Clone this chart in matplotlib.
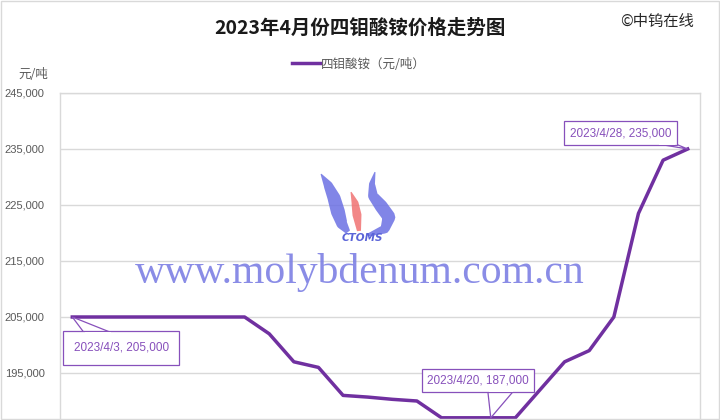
import matplotlib.pyplot as plt
import numpy as np

plt.rcParams['font.family'] = ['Liberation Sans', 'Noto Sans CJK SC', 'DejaVu Sans']

# data: daily price, 2023/4/3 .. 2023/4/28
dates = ['2023/4/%d' % d for d in range(3, 29)]
prices = [205000, 205000, 205000, 205000, 205000, 205000, 205000, 205000,
          202000, 197000, 196000, 191000, 190700, 190300, 190000,
          187000, 187000, 187000, 187000, 192000, 197000, 199000,
          205000, 223500, 233000, 235000]
yticks = [185000, 195000, 205000, 215000, 225000, 235000, 245000]
callouts = ['2023/4/3', '2023/4/20', '2023/4/28']

purple = '#7030A0'
light_purple = '#8750bb'
grey = '#595959'
cjk = ['Noto Sans CJK SC', 'DejaVu Sans']

fig = plt.figure(figsize=(7.2, 4.2), dpi=100)
# plot area runs past the bottom edge (picture is cropped there)
ax = fig.add_axes([60 / 720, -9 / 420, 640 / 720, 336 / 420])
ax.set_zorder(1)
ax.patch.set_alpha(0)

x = np.arange(len(dates))
ax.plot(x, prices, color=purple, lw=2.5, solid_joinstyle='round', zorder=3,
        label='四钼酸铵（元/吨）')
ax.set_xlim(-0.5, len(dates) - 0.5)
ax.set_ylim(yticks[0], yticks[-1])
ax.set_yticks(yticks)
# lowest label sits below the cropped edge
ax.set_yticklabels([''] + ['{:,}'.format(v) for v in yticks[1:]], color=grey, fontsize=8)
ax.set_xticks(x)
ax.set_xticklabels([])  # date labels fall below the cropped edge
ax.tick_params(length=0, pad=11)
ax.grid(axis='y', color='#d9d9d9', lw=1)
for s in ax.spines.values():
    s.set_color('#d9d9d9')
    s.set_linewidth(1)

# overlay in pixel coordinates (y down) for callouts and watermark
ov = fig.add_axes([0, 0, 1, 1])
ov.set_xlim(0, 720)
ov.set_ylim(420, 0)
ov.axis('off')
ov.set_zorder(2)

# callout boxes: box centre offset, wedge base points (pixels from the data point), padding
callout_style = {
    '2023/4/3': ((49, 31), (12, 16), (40, 16), 0.9),
    '2023/4/20': ((-13, -37), (-3, -27), (23, -27), 0.45),
    '2023/4/28': ((-67, -16), (-30, -5), (-12, -5), 0.5),
}
fig.canvas.draw()
for d in callouts:
    i = dates.index(d)
    px, py = ax.transData.transform((i, prices[i]))
    py = 420 - py
    (cx, cy), b1, b2, pad = callout_style[d]
    ov.fill([px + b1[0], px, px + b2[0]], [py + b1[1], py, py + b2[1]],
            fc='white', ec=light_purple, lw=0.9, zorder=4)
    ov.text(px + cx, py + cy, '%s, %s' % (d, '{:,}'.format(prices[i])), ha='center', va='center',
            fontsize=8.5, color=light_purple, zorder=5,
            bbox=dict(boxstyle='square,pad=%s' % pad, fc='white', ec=light_purple, lw=0.9))
    ov.plot([px + b1[0] + 1, px + b2[0] - 1], [py + b1[1], py + b2[1]], color='white',
            lw=1.4, zorder=6, solid_capstyle='butt')


def swoosh(pts, widths, color):
    pts = np.array(pts, float)
    t = np.linspace(0, 1, 80)
    tp = np.linspace(0, 1, len(pts))
    cx = np.interp(t, tp, pts[:, 0])
    cy = np.interp(t, tp, pts[:, 1])
    w = np.interp(t, np.linspace(0, 1, len(widths)), widths)
    gx, gy = np.gradient(cx), np.gradient(cy)
    n = np.hypot(gx, gy)
    nx, ny = -gy / n, gx / n
    xs = np.concatenate([cx + nx * w / 2, (cx - nx * w / 2)[::-1]])
    ys = np.concatenate([cy + ny * w / 2, (cy - ny * w / 2)[::-1]])
    ov.fill(xs, ys, color=color, alpha=0.85, lw=0, zorder=1)


swoosh([(321, 174), (328, 185), (334, 198), (338, 212), (342, 224), (348, 232)],
       [1, 9, 13, 14, 11, 5], '#6b70e3')
swoosh([(351, 192), (355, 203), (357, 215), (359, 231)], [1, 7, 9, 4], '#f07272')
swoosh([(375, 172), (372, 184), (373, 196), (381, 206), (389, 217), (385, 229), (368, 235)],
       [1, 6, 10, 13, 13, 9, 3], '#6b70e3')
ov.text(362, 238, 'CTOMS', fontsize=7.5, fontweight='bold', fontstyle='italic',
        color='#5a63d8', ha='center', va='center', family='DejaVu Sans')
ov.text(360, 273, 'www.molybdenum.com.cn', fontsize=30, color='#7d80e4', alpha=0.9,
        ha='center', va='center', family='Liberation Serif')

# titles and labels
fig.text(0.5, 1 - 28 / 420, '2023年4月份四钼酸铵价格走势图', ha='center', va='center',
         fontsize=14, fontweight='bold', color='#1a1a1a', family=cjk)
fig.text(657 / 720, 1 - 21 / 420, '©中钨在线', ha='center', va='center', fontsize=11,
         color='#262626', family=cjk)
fig.text(33 / 720, 1 - 74 / 420, '元/吨', ha='center', va='center', fontsize=9, color=grey,
         family=cjk)
leg = fig.legend(loc='center', bbox_to_anchor=(359 / 720, 1 - 64 / 420), frameon=False,
                 handlelength=2.2, handletextpad=0.1, prop={'family': cjk, 'size': 9})
for t in leg.get_texts():
    t.set_color(grey)

# outer border
fig.patches.append(plt.Rectangle((0.002, 0.002), 0.996, 0.995, transform=fig.transFigure,
                                 fill=False, ec='#d9d9d9', lw=1))

fig.savefig('out.png', dpi=100)
